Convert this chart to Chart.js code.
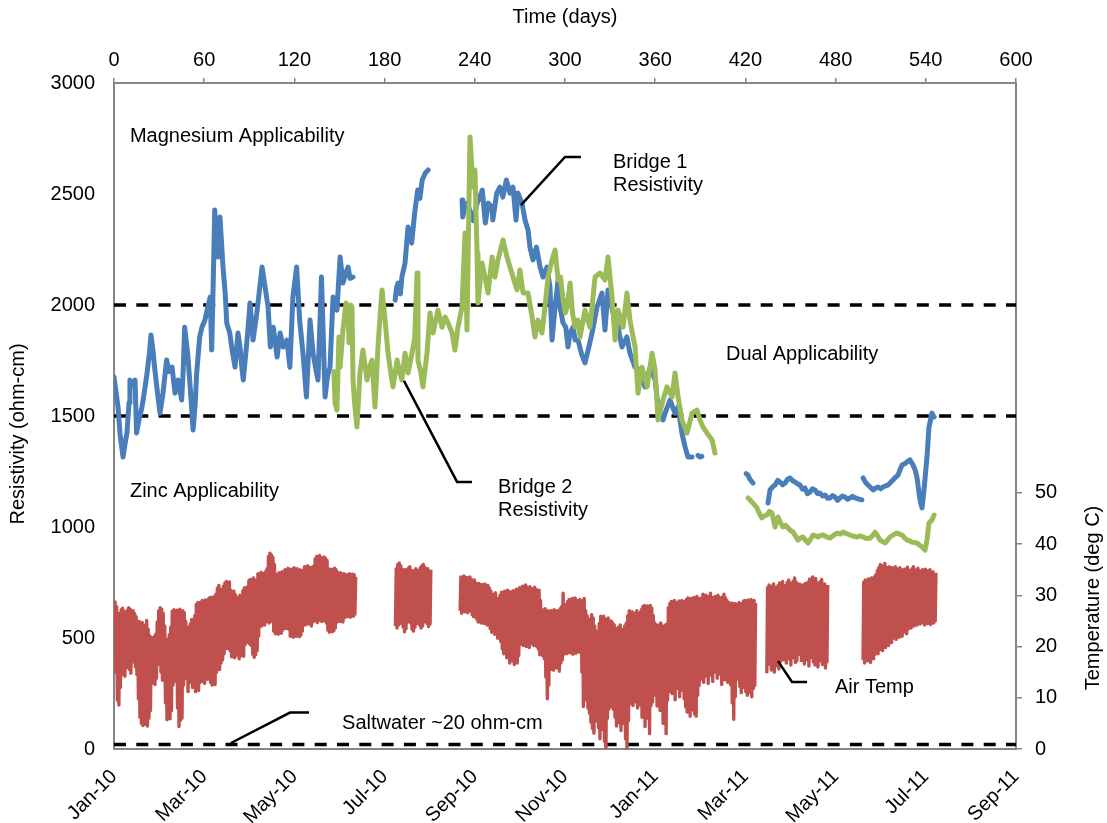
<!DOCTYPE html>
<html>
<head>
<meta charset="utf-8">
<script src="https://cdn.jsdelivr.net/npm/chart.js@4.4.1/dist/chart.umd.min.js"></script>
<style>
  html, body { margin: 0; padding: 0; background: #ffffff; }
  canvas { display: block; }
</style>
</head>
<body>
<canvas id="chart" width="1107" height="823"></canvas>
<script>
// ---- Time axis: days since 1 Jan 2010, labelled every 60 days ----
const dayTicks = [0, 60, 120, 180, 240, 300, 360, 420, 480, 540, 600];
const monthLabels = ['Jan-10', 'Mar-10', 'May-10', 'Jul-10', 'Sep-10', 'Nov-10',
                     'Jan-11', 'Mar-11', 'May-11', 'Jul-11', 'Sep-11'];
const tempTicks = [0, 10, 20, 30, 40, 50];

// ---- Anode applicability limits (ohm-cm) ----
const magnesiumLimit = 2000;
const zincLimit = 1500;
const saltwaterResistivity = 20;

// ---- Bridge 1 resistivity: [day, ohm-cm]; null marks a logging gap ----
const bridge1 = [
  [0,1676],[1.5,1600],[2.7,1540],[4,1420],[6,1315],[7,1360],[8.6,1423],[10,1560],[10.6,1662],[12,1640],
  [14,1662],[15,1423],[16.5,1480],[18.6,1540],[20,1600],[22,1694],[23.5,1780],[24.6,1865],[26,1790],[27,1720],
  [29,1600],[30.6,1513],[32.6,1603],[35,1752],[36.5,1700],[38.6,1720],[40.6,1603],[42.6,1662],[45,1572],[46,1700],
  [47,1900],[49,1783],[51,1600],[52.6,1437],[54,1550],[55,1694],[57,1856],[58.5,1900],[60.5,1932],[62,1980],
  [64,2036],[65,1797],[66,2100],[67,2428],[68,2300],[69,2216],[70.5,2396],[72.5,2171],[74,2050],[75,1919],
  [77,1874],[78.5,1800],[80.5,1720],[82.5,1874],[84,1800],[85,1720],[86,1662],[88.5,1842],[90.5,2009],[92.5,1842],
  [95,1964],[97,2081],[98.5,2171],[100.5,2081],[102.5,1991],[104,1811],[106,1900],[108.5,1766],[110.5,1874],[112.5,1811],
  [115,1842],[117,1720],[119,2036],[121.5,2171],[123.5,1932],[125.7,1783],[128,1586],[130.4,1932],[132.4,1783],[134,1720],
  [135.7,1662],[138,2126],[140.4,1586],[142,1680],[143.7,1720],[145.7,2036],[148.3,1977],[150.4,2216],[152.3,2099],[154,2140],
  [155.7,2171],[157,2120],[159,2126],
  [170,null],
  [187,2022],[188,2080],[189,2099],[190.5,2050],[191.5,2126],[193.6,2189],[195.6,2351],[197,2300],[198,2279],[200,2414],
  [202,2518],[203.5,2480],[205,2563],[207,2594],[209,2608],
  [220,null],
  [231.5,2473],[232,2396],[233,2430],[235,2459],[237,2420],[239,2380],[241.5,2459],[243,2480],[245,2518],[247,2369],
  [249,2459],[251.5,2441],[252,2383],[254.6,2504],[256.7,2531],[258.7,2486],[261,2563],[263.4,2504],[265.4,2531],[267.4,2383],
  [268.7,2504],[271.4,2459],[273.4,2383],[275.4,2338],[276.7,2261],[278.7,2203],[281,2261],[283.4,2171],[285.4,2126],[288,2171],
  [290,2081],[291.4,1842],[293.4,1991],[295.4,2113],[296.7,1991],[298.7,1919],[300.5,1900],[302,1811],[303.4,1874],[305.4,1900],
  [306.7,1842],[308.7,1842],[311,1780],[313.3,1739],[315.5,1800],[318,1874],[321.3,1991],[324.6,2054],[326.6,1887],[328.6,2068],
  [332,1964],[335.3,1900],[337.9,1811],[341.2,1856],[343.2,1783],[346.6,1720],[350,1707],[353.2,1631],[356.6,1720],[360,1662],
  [361.9,1540],[365.2,1482],[367.5,1530],[369.8,1572],[373.2,1513],[375.2,1540],[377.8,1423],[379.9,1360],[381.8,1315],[384.5,1315],
  [386.5,null],
  [388.5,1322],[389.8,1315],[391,1318],
  [400,null],
  [420.5,1240],[421.7,1234],[423,1215],[425,1198],
  [430,null],
  [435,1108],[436.4,1167],[438,1180],[439.7,1189],[441.5,1210],[443,1203],[444.8,1190],[446.4,1198],[448,1215],[449.7,1221],
  [451.5,1208],[453,1203],[454.6,1195],[456.3,1189],[458,1170],[459.6,1176],[461.3,1150],[463,1158],[464.6,1172],[466.3,1167],
  [468,1150],[469.6,1153],[471.3,1140],[473,1144],[474.6,1130],[476.3,1131],[478,1142],[479.6,1135],[481.3,1120],[483,1131],
  [484.6,1140],[486.3,1135],[488,1125],[489.6,1131],[491.3,1138],[493,1131],[495,1126],[497.5,1122],
  [498,null],
  [498.3,1221],[500,1200],[501.6,1189],[503.3,1178],[505,1167],[506.6,1175],[508.3,1180],[510,1172],[511.5,1180],[513.2,1185],
  [514.9,1189],[516.5,1200],[518.2,1212],[520,1225],[521.5,1234],[523,1260],[524.2,1279],[526,1285],[527.5,1293],[529.5,1302],
  [531.5,1279],[533,1255],[534.1,1225],[535.5,1153],[536.5,1110],[537.5,1086],[538.8,1167],[540.8,1315],[542.1,1450],[544.1,1513],
  [545.5,1495]
];

// ---- Bridge 2 resistivity: [day, ohm-cm] ----
const bridge2 = [
  [146.3,1700],[147,1560],[148.3,1527],[149.6,1856],[150.4,1720],[152.3,1887],[154.3,2009],[155.7,1990],[156.3,1830],[157.5,2000],
  [158.3,1991],[159,1662],[160,1560],[161.6,1450],[163.6,1694],[165.6,1797],[168.3,1662],[170,1720],[171.6,1752],[173.6,1540],
  [175.6,1811],[177,1950],[178.3,2068],[180.3,1932],[182.3,1783],[184,1700],[185.6,1631],[188.3,1752],[190,1700],[191.5,1662],
  [193.6,1783],[195.6,1694],[198.2,1783],[200,1850],[201.6,2144],[202.2,1752],[204,1700],[205.5,1631],[208.2,1783],[210.2,1964],
  [212.2,1874],[214,1930],[215.5,1977],[218.2,1900],[220.2,1946],[222.2,1919],[224.9,1874],[226.8,1797],[228.8,1900],[231.5,1991],
  [233.5,2324],[234.8,1887],[236.8,2757],[238.8,2531],[240.1,2608],[241.5,2234],[242.1,2009],[244.8,2189],[246.8,2126],[248.8,2054],
  [251.5,2216],[253.4,2126],[255.4,2203],[258.8,2293],[261.4,2216],[263.4,2171],[265.4,2126],[268.1,2068],[270,2158],[272.1,2054],
  [275.4,2054],[278.1,1946],[280,1856],[282,1932],[284.7,1874],[286.7,1991],[288.7,2126],[291.4,2203],[293.4,2248],[295.4,2113],
  [297,2126],[298.5,2036],[300.1,1964],[301.4,1991],[303.4,2099],[305,1964],[306.7,1900],[308.5,1932],[310,1856],[313.3,1977],
  [316.6,1900],[320,2126],[323.3,2144],[326.6,2113],[328.6,2216],[331.3,2036],[333.3,1842],[335.3,1977],[338.6,1900],[341.2,2054],
  [343.2,1932],[346.6,1811],[348.6,1603],[351.2,1720],[354.6,1631],[357.9,1783],[359.9,1707],[361.9,1482],[365.2,1572],[367.8,1631],
  [371.2,1586],[373.2,1694],[375.2,1586],[377.8,1482],[381.2,1423],[384.5,1513],[387.8,1527],[389.8,1482],[391.8,1450],[394.5,1423],
  [397.8,1392],[399.8,1333],
  [410,null],
  [421.7,1131],[423.3,1120],[425,1108],[427.7,1086],[429.4,1060],[431,1041],[432.7,1050],[434.4,1054],[436,1070],[437.7,1063],
  [439.7,1000],[441.7,1045],[443.3,1020],[445,1000],[446.7,1008],[448.4,995],[450,985],[451.7,977],[453.3,960],[455,941],
  [456.7,950],[458.3,955],[460,940],[461.7,928],[463.3,945],[465,964],[466.6,960],[468.3,955],[470,962],[471.6,964],
  [474,955],[476.3,950],[478.6,962],[481,973],[483,968],[485,977],[487.3,970],[489.6,964],[492,958],[494.3,955],
  [496.3,960],[498.3,955],[500.6,948],[503,950],[504.6,962],[506.2,977],[508,960],[509.5,941],[511.2,935],[512.9,928],
  [514.5,940],[516.2,955],[518.5,965],[520.8,973],[522.5,968],[524.2,964],[526,950],[527.5,941],[529.2,938],[530.8,932],
  [532.5,930],[534.1,928],[536,918],[537.5,910],[539.5,896],[540.8,941],[542.1,1018],[544.1,1032],[545.5,1054]
];

// ---- Air temperature (deg C): daily min / max for each logging run ----
const airTempRunStart = [0, 187, 230, 434, 498];
const airTempHigh = [
  [28.7,27.8,26.5,26.0,27.2,27.5,26.8,25.9,27.1,27.6, 27.3,26.9,27.0,26.4,25.8,24.6,24.9,23.8,24.7,22.9,
   24.2,25.1,23.4,22.1,21.8,21.2,21.9,22.4,24.8,27.0, 27.6,27.3,26.5,24.0,21.5,21.0,22.3,23.8,26.9,27.2,
   26.8,27.1,26.9,27.3,26.2,27.0,26.6,24.9,23.8,23.2, 24.4,25.3,24.1,26.0,28.2,28.6,28.1,28.7,29.0,28.4,
   29.1,28.8,29.3,29.6,29.2,29.7,29.4,30.2,31.4,31.9, 31.2,30.7,31.8,32.4,32.7,32.1,32.6,31.0,30.4,30.8,
   30.1,29.6,29.4,30.0,29.5,30.9,31.5,31.2,31.7,32.9, 33.1,32.6,33.4,33.0,32.8,34.2,33.9,34.5,34.0,34.3,
   34.6,35.2,37.6,38.2,37.9,37.4,36.0,34.1,33.8,34.4, 34.0,34.6,34.2,35.0,34.8,35.3,34.7,35.1,34.9,35.4,
   34.6,35.2,34.8,35.0,34.5,34.9,35.6,35.2,35.8,35.4, 35.5,35.1,35.7,37.1,37.6,37.3,37.8,37.4,36.9,37.5,
   37.2,36.8,35.2,34.6,35.1,34.8,35.3,35.0,34.5,34.0, 34.4,33.9,34.2,34.1,33.8,34.0,34.2,33.9,34.1,34.0,
   33.6],
  [35.2,36.0,36.3,35.8,35.1,34.6,35.0,34.8,35.3,35.6, 34.9,34.5,34.8,35.2,34.6,34.9,35.4,35.8,36.0,35.5,
   34.8,35.2,34.7,35.0],
  [33.6,33.4,33.8,33.2,33.5,33.0,33.6,33.1,32.8,33.0, 32.4,32.0,32.3,31.8,32.1,31.9,32.2,31.6,31.9,31.4,
   30.8,30.2,29.6,30.5,29.4,29.1,30.0,30.6,30.1,30.8, 30.4,31.0,30.2,30.7,30.0,30.9,30.3,31.2,31.0,31.5,
   31.2,31.8,31.4,32.0,31.6,31.1,31.7,31.3,31.0,31.6, 31.2,30.8,31.0,29.0,27.2,26.8,27.4,26.5,27.0,26.6,
   27.0,26.8,27.2,26.6,27.0,26.9,27.4,27.8,30.4,28.0, 28.2,28.8,29.2,28.6,29.4,28.9,29.5,29.0,28.4,29.2,
   28.8,29.0,29.4,27.0,26.0,25.4,24.8,26.2,25.6,24.0, 23.0,22.8,24.5,25.9,25.5,25.9,25.4,25.2,25.6,24.9,
   25.0,24.6,24.2,23.6,23.0,23.8,24.2,22.8,23.4,24.0, 24.6,26.0,27.0,26.2,26.8,25.4,26.5,27.0,25.8,26.6,
   27.2,27.8,28.0,27.4,27.9,27.2,28.0,27.5,26.0,24.6, 23.4,24.2,23.8,24.6,24.0,23.5,24.2,24.4,27.6,28.4,
   28.8,28.2,29.0,28.6,28.0,28.9,28.5,29.0,28.3,28.8, 29.2,29.5,29.0,29.4,28.8,29.6,29.2,29.8,29.4,29.0,
   29.5,30.2,29.6,30.0,29.2,29.8,30.4,29.6,29.2,29.8, 29.4,30.0,29.6,29.2,29.7,30.2,29.5,29.0,28.6,28.2,
   28.5,28.0,28.4,27.9,28.3,28.6,28.1,28.4,28.9,29.0, 28.6,29.1,28.8,29.2,28.7,29.0,28.5],
  [31.5,32.0,31.2,31.8,32.2,31.6,31.0,31.9,32.4,31.4, 32.7,32.2,null,32.5,33.0,32.4,31.6,32.8,33.4,32.6,
   31.9,32.5,null,32.0,31.5,32.3,31.8,32.6,33.2,32.8, 33.6,32.9,33.3,32.4,31.8,32.7,33.1,31.5,32.2,31.0,
   32.0],
  [32.6,33.0,32.4,33.2,32.8,33.4,32.9,33.6,34.0,34.8, 35.4,36.0,35.2,35.8,36.2,35.5,34.9,35.6,35.0,35.4,
   34.8,35.6,35.2,34.6,35.4,35.0,34.4,35.1,34.7,35.5, 34.9,34.3,35.2,35.6,35.0,34.5,35.3,34.8,34.2,35.0,
   34.6,35.1,34.4,34.8,35.0,34.3,34.6,34.0,34.4]
];
const airTempLow = [
  [20.5,15.0,9.5,8.6,12.0,14.5,15.0,14.2,15.8,17.5, 15.5,14.8,17.0,18.2,16.0,14.5,9.8,6.2,5.0,4.6,
   5.5,4.8,4.5,6.0,7.5,12.8,13.5,12.6,13.8,16.5, 17.2,15.0,13.4,14.2,9.0,5.7,6.2,5.9,7.5,12.5,
   14.0,13.2,8.0,4.4,5.6,6.0,12.5,14.5,13.8,11.2, 13.0,14.8,12.0,15.2,11.2,12.5,11.4,13.0,14.0,13.2,
   12.8,14.1,13.6,14.4,13.0,12.5,13.8,12.6,15.0,17.0, 15.5,16.8,17.4,18.6,20.0,19.6,20.5,19.2,18.0,18.4,
   17.8,18.3,18.9,17.6,18.2,19.0,18.1,20.4,20.8,21.0, 20.5,20.2,18.5,17.9,18.4,19.2,22.0,24.5,24.0,24.6,
   24.2,24.8,25.0,24.6,25.2,24.9,23.0,22.5,22.8,22.4, 23.0,22.6,23.2,23.8,23.5,24.0,23.4,22.0,22.3,21.8,
   22.4,22.0,22.6,21.9,22.2,23.0,24.5,24.2,24.8,24.4, 24.6,24.0,24.8,25.2,25.0,24.7,25.4,25.1,24.9,25.3,
   25.0,24.6,23.2,22.8,23.4,22.9,23.1,23.6,24.8,25.1, 24.9,25.3,24.8,25.6,26.0,25.8,26.2,25.7,26.1,25.9,
   26.3],
  [24.0,23.6,24.2,25.0,24.5,23.8,22.9,23.5,24.8,25.2, 24.6,23.4,23.0,23.8,24.5,25.1,24.2,23.6,24.0,24.8,
   25.3,24.5,23.9,24.4],
  [27.0,26.5,27.4,26.8,27.2,26.6,27.5,26.9,26.2,25.8, 26.0,25.4,24.8,25.6,24.6,25.2,24.5,25.0,24.2,24.8,
   23.5,22.8,23.6,22.4,23.0,21.6,22.2,21.0,19.5,18.6, 19.2,17.8,18.4,16.8,18.0,17.2,16.5,17.6,16.8,18.2,
   20.4,21.0,20.2,20.8,20.0,20.6,19.8,20.5,21.0,20.2, 20.8,20.0,19.5,18.4,19.0,18.2,17.6,14.0,9.8,12.5,
   15.5,16.2,15.4,17.0,15.8,16.5,15.2,16.8,17.4,18.5, 19.0,18.6,19.4,18.8,19.2,18.5,19.0,18.7,19.3,18.9,
   19.2,15.0,8.3,9.6,10.5,8.0,7.0,5.2,4.0,3.1, 5.4,6.8,4.2,2.0,3.8,6.5,1.5,-0.3,6.0,7.8,
   9.0,8.2,7.7,6.2,4.5,6.6,5.1,3.6,5.0,6.2, 2.0,-0.5,5.5,8.8,9.6,8.5,10.0,9.2,8.0,9.4,
   8.6,6.2,7.8,4.4,6.0,7.2,3.0,8.5,9.2,12.8, 10.5,8.4,12.0,7.5,9.8,5.0,6.5,3.0,9.5,11.2,
   12.6,10.8,13.4,9.6,11.8,12.5,10.2,13.0,11.4,9.8, 8.2,7.2,9.0,6.4,7.6,8.8,6.8,6.4,10.5,12.4,
   13.6,15.2,13.0,16.0,14.2,12.8,15.6,14.4,13.2,16.2, 15.0,13.8,16.4,14.6,12.6,15.2,13.5,14.8,13.0,14.4,
   12.5,9.0,5.8,10.2,13.6,14.0,12.2,11.0,13.4,12.0, 11.2,10.5,12.6,11.0,10.2,11.8,12.4],
  [14.8,16.5,17.2,15.4,16.8,15.0,17.5,16.2,15.6,17.0, 18.7,17.4,null,16.5,18.8,17.6,16.4,17.8,18.5,16.9,
   17.2,18.4,null,17.0,18.2,16.6,17.4,18.6,16.2,17.8, 18.5,17.0,16.4,17.8,16.0,17.2,18.0,16.5,17.4,15.8,
   17.0],
  [17.4,16.8,18.0,17.2,17.8,16.9,18.2,17.6,18.5,19.0, 18.6,19.4,20.0,19.2,20.4,19.8,21.0,20.2,21.4,20.8,
   21.6,22.0,21.4,22.4,21.8,22.6,22.0,22.8,23.2,22.5, 23.4,24.0,23.6,24.4,24.0,24.6,24.2,24.8,24.4,25.0,
   24.6,24.2,25.0,24.5,24.8,24.3,25.2,24.6,25.0]
];

// ---- Text notes and leader lines, placed in axis units (day, ohm-cm) ----
const notes = [
  { day: 10.6,  res: 2761, lines: ['Magnesium Applicability'] },
  { day: 407.1, res: 1775, lines: ['Dual Applicability'] },
  { day: 10.6,  res: 1162, lines: ['Zinc Applicability'] },
  { day: 331.9, res: 2640, lines: ['Bridge 1', 'Resistivity'] },
  { day: 255.4, res: 1176, lines: ['Bridge 2', 'Resistivity'] },
  { day: 151.7, res: 117,  lines: ['Saltwater ~20 ohm-cm'] },
  { day: 479.6, res: 275,  lines: ['Air Temp'] }
];
const leaders = [
  [[270.7, 2450], [300, 2667], [310.6, 2667]],
  [[192.9, 1658], [228.2, 1203], [238.1, 1203]],
  [[77.8, 27], [117.1, 164], [129.7, 164]],
  [[441.7, 396], [451, 302], [461, 302]]
];

// ---- Build plotting points ----
const toXY = pairs => pairs.map(([d, v]) => ({ x: d, y: v }));
const airTemp = [];
airTempRunStart.forEach((start, r) => {
  if (r) airTemp.push({ x: start - 0.5, y: null });
  airTempHigh[r].forEach((hi, i) => {
    airTemp.push({ x: start + i + 0.25, y: airTempLow[r][i] });
    airTemp.push({ x: start + i + 0.75, y: hi });
  });
});
const fullSpan = v => [{ x: dayTicks[0], y: v }, { x: dayTicks[dayTicks.length - 1], y: v }];

const FONT_FAMILY = '"Liberation Sans", Arial, Helvetica, sans-serif';
const FONT_SIZE = 20;
const AXIS_GREY = '#868686';

Chart.defaults.font.family = FONT_FAMILY;
Chart.defaults.font.size = FONT_SIZE;
Chart.defaults.color = '#000000';

const whiteBackground = {
  id: 'whiteBackground',
  beforeDraw(chart) {
    const { ctx, width, height } = chart;
    ctx.save();
    ctx.fillStyle = '#ffffff';
    ctx.fillRect(0, 0, width, height);
    ctx.restore();
  }
};

const notesAndTitles = {
  id: 'notesAndTitles',
  afterDraw(chart) {
    const { ctx, chartArea } = chart;
    const xs = chart.scales.x, ys = chart.scales.y;
    ctx.save();
    // leader lines
    ctx.strokeStyle = '#000000';
    ctx.lineWidth = 2.5;
    ctx.lineJoin = 'miter';
    leaders.forEach(path => {
      ctx.beginPath();
      path.forEach(([d, r], i) => {
        const px = xs.getPixelForValue(d), py = ys.getPixelForValue(r);
        if (i === 0) ctx.moveTo(px, py); else ctx.lineTo(px, py);
      });
      ctx.stroke();
    });
    // note text
    ctx.fillStyle = '#000000';
    ctx.font = FONT_SIZE + 'px ' + FONT_FAMILY;
    ctx.textAlign = 'left';
    ctx.textBaseline = 'middle';
    notes.forEach(n => {
      const px = xs.getPixelForValue(n.day), py = ys.getPixelForValue(n.res);
      n.lines.forEach((t, i) => ctx.fillText(t, px, py + i * 23));
    });
    // axis titles
    ctx.textAlign = 'center';
    ctx.fillText('Time (days)', (chartArea.left + chartArea.right) / 2, 17);
    ctx.save();
    ctx.translate(18, 434);
    ctx.rotate(-Math.PI / 2);
    ctx.fillText('Resistivity (ohm-cm)', 0, 0);
    ctx.restore();
    ctx.save();
    ctx.translate(1093, 598);
    ctx.rotate(-Math.PI / 2);
    ctx.fillText('Temperature (deg C)', 0, 0);
    ctx.restore();
    ctx.restore();
  }
};

new Chart(document.getElementById('chart'), {
  type: 'line',
  data: {
    datasets: [
      { label: 'Magnesium limit', data: fullSpan(magnesiumLimit), xAxisID: 'x', yAxisID: 'y',
        borderColor: '#000000', borderWidth: 3.5, borderDash: [12, 10.3], pointRadius: 0, order: 9 },
      { label: 'Zinc limit', data: fullSpan(zincLimit), xAxisID: 'x', yAxisID: 'y',
        borderColor: '#000000', borderWidth: 3.5, borderDash: [12, 10.3], pointRadius: 0, order: 9 },
      { label: 'Saltwater', data: fullSpan(saltwaterResistivity), xAxisID: 'x', yAxisID: 'y',
        borderColor: '#000000', borderWidth: 3.5, borderDash: [12, 10.3], pointRadius: 0, order: 9 },
      { label: 'Air Temp', data: airTemp, xAxisID: 'x', yAxisID: 'yT',
        borderColor: '#C0504D', borderWidth: 3.4, borderJoinStyle: 'round', tension: 0.0001,
        pointRadius: 0, order: 5 },
      { label: 'Bridge 1 Resistivity', data: toXY(bridge1), xAxisID: 'x', yAxisID: 'y',
        borderColor: '#4A7EBB', borderWidth: 5, borderJoinStyle: 'round', borderCapStyle: 'round', pointRadius: 0, order: 3 },
      { label: 'Bridge 2 Resistivity', data: toXY(bridge2), xAxisID: 'x', yAxisID: 'y',
        borderColor: '#9BBB59', borderWidth: 5, borderJoinStyle: 'round', borderCapStyle: 'round', pointRadius: 0, order: 2 }
    ]
  },
  options: {
    responsive: false,
    devicePixelRatio: 1,
    animation: false,
    spanGaps: false,
    layout: { padding: 0 },
    plugins: { legend: { display: false }, tooltip: { enabled: false } },
    elements: { line: { tension: 0, fill: false } },
    scales: {
      x: {
        type: 'linear', position: 'bottom', min: 0, max: 600,
        afterFit: s => { s.height = 74; },
        grid: { display: false, drawTicks: false },
        border: { display: true, color: AXIS_GREY, width: 2 },
        ticks: {
          stepSize: 60, autoSkip: false, minRotation: 45, maxRotation: 45, padding: 16,
          callback: v => { const i = dayTicks.indexOf(v); return i >= 0 ? monthLabels[i] : ''; }
        }
      },
      xTop: {
        type: 'linear', position: 'top', min: 0, max: 600,
        afterFit: s => { s.height = 83; },
        grid: { display: true, drawOnChartArea: false, drawTicks: true, tickLength: 5, color: AXIS_GREY, lineWidth: 1.5 },
        border: { display: true, color: AXIS_GREY, width: 2 },
        ticks: { stepSize: 60, autoSkip: false, maxRotation: 0, padding: 6, callback: v => String(v) }
      },
      y: {
        type: 'linear', position: 'left', min: 0, max: 3000,
        afterFit: s => { s.width = 114; },
        grid: { display: false, drawTicks: false },
        border: { display: true, color: AXIS_GREY, width: 2 },
        ticks: { stepSize: 500, padding: 19, callback: v => String(v) }
      },
      yT: {
        type: 'linear', position: 'right', min: 0, max: 130,
        afterFit: s => { s.width = 91; },
        afterBuildTicks: s => { s.ticks = s.ticks.filter(t => tempTicks.includes(t.value)); },
        grid: { display: true, drawOnChartArea: false, drawTicks: true, tickLength: 6, color: AXIS_GREY, lineWidth: 1.5 },
        border: { display: true, color: AXIS_GREY, width: 2 },
        ticks: { stepSize: 10, padding: 13, callback: v => String(v) }
      }
    }
  },
  plugins: [whiteBackground, notesAndTitles]
});
</script>
</body>
</html>
